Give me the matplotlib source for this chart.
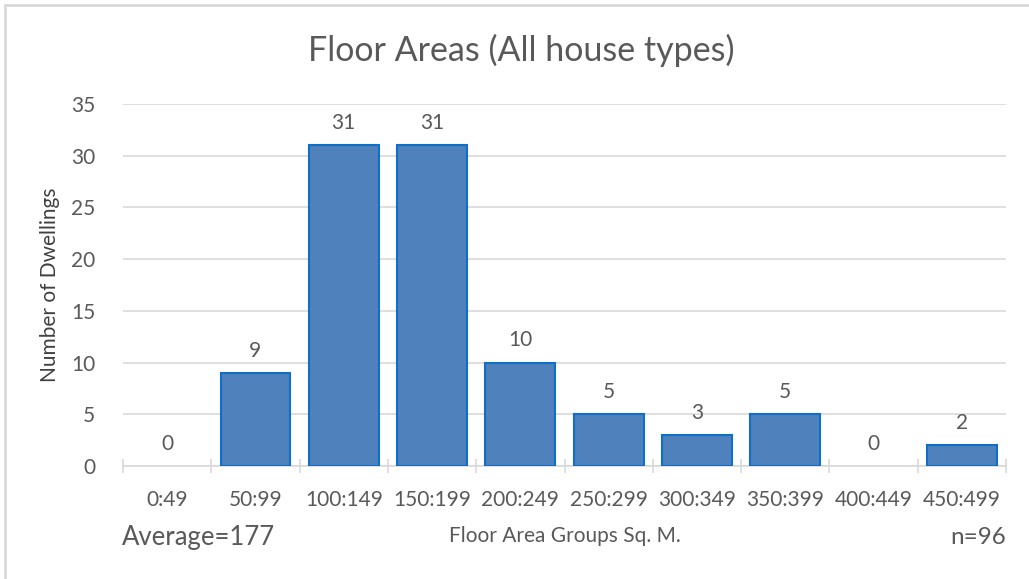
import matplotlib.pyplot as plt
from matplotlib.lines import Line2D

groups = ['0:49', '50:99', '100:149', '150:199', '200:249',
          '250:299', '300:349', '350:399', '400:449', '450:499']
counts = [0, 9, 31, 31, 10, 5, 3, 5, 0, 2]
average = 177
n_total = 96

plt.rcParams['font.family'] = ['Lato', 'DejaVu Sans']
grey = '#595959'

fig = plt.figure(figsize=(10.29, 5.79), dpi=100)
ax = fig.add_axes([0.1195, 0.195, 0.8582, 0.6254])

x = range(len(groups))
edges = ['#0F6FC6' if c > 0 else 'none' for c in counts]
ax.bar(x, counts, width=0.79, color='#4F81BD', edgecolor=edges, linewidth=1.5, zorder=3)
for i, c in enumerate(counts):
    ax.text(i, c + 1.2, str(c), ha='center', va='bottom', fontsize=15, color=grey)

ax.set_xlim(-0.5, len(groups) - 0.5)
ax.set_ylim(0, 35)
ax.set_yticks(range(0, 36, 5))
ax.grid(axis='y', color='#D9D9D9', linewidth=1.2, zorder=0)
for s in ['top', 'right', 'left']:
    ax.spines[s].set_visible(False)
ax.spines['bottom'].set_color('#D9D9D9')
ax.spines['bottom'].set_linewidth(1.2)
ax.tick_params(axis='y', length=0, labelsize=15, labelcolor=grey, pad=20)
ax.set_xticks(x)
ax.set_xticklabels(groups)
ax.tick_params(axis='x', length=0, labelsize=15, labelcolor=grey, pad=17)
ax.set_xticks([i - 0.5 for i in range(len(groups) + 1)], minor=True)
ax.tick_params(axis='x', which='minor', length=10, width=1.2, color='#D9D9D9', direction='inout')

ax.set_ylabel('Number of Dwellings', fontsize=15, color='#404040', labelpad=8)

# title is centred on the whole chart, not the plot area
fig.text(0.507, 0.913, 'Floor Areas (All house types)', fontsize=24.5, color=grey, ha='center', va='center')

fig.text(0.1185, 0.072, 'Average=' + str(average), fontsize=18.5, color=grey, ha='left', va='center')
fig.text(0.549, 0.075, 'Floor Area Groups Sq. M.', fontsize=15, color=grey, ha='center', va='center')
fig.text(0.9777, 0.072, 'n=' + str(n_total), fontsize=17.5, color=grey, ha='right', va='center')

# chart border (top and left edges visible)
fig.add_artist(Line2D([0.005, 1.0], [0.9914, 0.9914], color='#D9D9D9', linewidth=2, transform=fig.transFigure))
fig.add_artist(Line2D([0.005, 0.005], [0.0, 0.9914], color='#D9D9D9', linewidth=2, transform=fig.transFigure))

fig.savefig('out.png', dpi=100)
